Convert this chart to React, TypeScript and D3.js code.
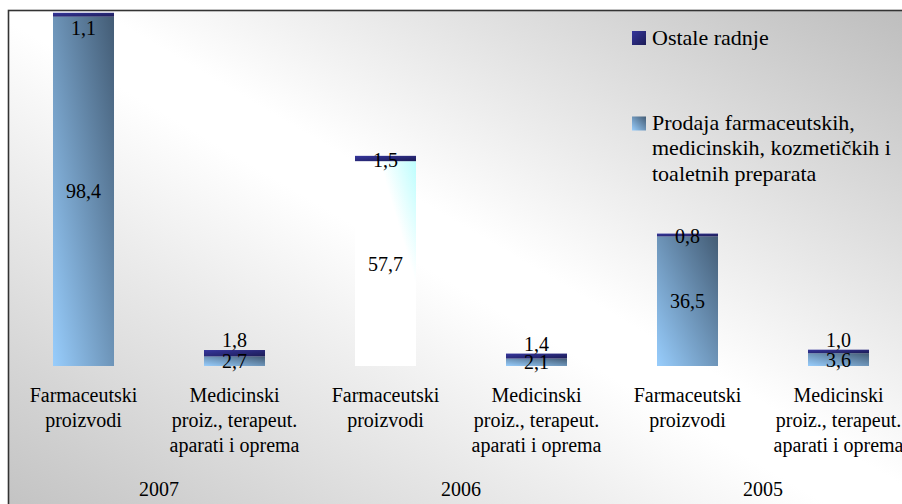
import * as d3 from 'd3'

// vrijednosti (%) po godini i grupi proizvoda
const years = ['2007', '2006', '2005']
const categories = [
  ['Farmaceutski', 'proizvodi'],
  ['Medicinski', 'proiz., terapeut.', 'aparati i oprema'],
]
const prodaja = [98.4, 2.7, 57.7, 2.1, 36.5, 3.6]
const ostale = [1.1, 1.8, 1.5, 1.4, 0.8, 1.0]
const legendOstale = ['Ostale radnje']
const legendProdaja = ['Prodaja farmaceutskih,', 'medicinskih, kozmetičkih i', 'toaletnih preparata']

const W = 902
const H = 504
const FONT = "'Liberation Serif'"

const fmt = d3.formatLocale({ decimal: ',', thousands: '.', grouping: [3], currency: ['', ''] }).format('.1f')

export default function App() {
  const rows = prodaja.map((p, i) => ({
    idx: i,
    year: years[Math.floor(i / 2)],
    cat: i % 2,
    prodaja: p,
    ostale: ostale[i],
  }))

  const stacked = d3.stack<any>().keys(['prodaja', 'ostale'])(rows)

  const x = d3.scaleBand<number>()
    .domain(rows.map(d => d.idx))
    .range([8, 914])
    .paddingInner(0.596)
    .paddingOuter(0.298)

  const y = d3.scaleLinear().domain([0, 100]).range([366, 11])
  const bw = x.bandwidth()
  const cx = (i: number) => (x(i) as number) + bw / 2

  return (
    <svg width={W} height={H} style={{ position: 'absolute', left: 0, top: 0, background: '#fff' }}>
      <defs>
        <linearGradient id="bg" gradientUnits="userSpaceOnUse" x1={220} y1={640} x2={680} y2={-140}>
          <stop offset="0" stopColor="#c2c2c2" />
          <stop offset="0.47" stopColor="#ffffff" />
          <stop offset="0.53" stopColor="#ffffff" />
          <stop offset="1" stopColor="#bbbbbb" />
        </linearGradient>
        <linearGradient id="gBlue" x1="0" y1="1" x2="1" y2="0">
          <stop offset="0" stopColor="#98cdfc" />
          <stop offset="1" stopColor="#435c75" />
        </linearGradient>
        <linearGradient id="gWhite" x1="0" y1="1" x2="1" y2="0">
          <stop offset="0" stopColor="#ffffff" />
          <stop offset="0.7" stopColor="#ffffff" />
          <stop offset="1" stopColor="#bdfdfd" />
        </linearGradient>
        <linearGradient id="gDark" x1="0" y1="0" x2="1" y2="1">
          <stop offset="0" stopColor="#36369c" />
          <stop offset="1" stopColor="#1c1c56" />
        </linearGradient>
      </defs>

      <rect x={8.5} y={10.5} width={W} height={H} fill="url(#bg)" stroke="#333" strokeWidth={1.6} />

      {/* stupci */}
      {stacked.map((layer, li) => (
        <g key={layer.key}>
          {layer.map((seg, i) => (
            <rect
              key={i}
              x={x(i)}
              y={y(seg[1])}
              width={bw}
              height={y(seg[0]) - y(seg[1])}
              fill={li === 1 ? 'url(#gDark)' : i === 2 ? 'url(#gWhite)' : 'url(#gBlue)'}
            />
          ))}
        </g>
      ))}

      {/* oznake vrijednosti */}
      {stacked.map((layer, li) =>
        layer.map((seg, i) => {
          const top = y(seg[1])
          const bottom = y(seg[0])
          let cy = (top + bottom) / 2
          if (li === 1) {
            if (rows[i].cat === 1) cy = top - 10
            else cy = Math.max(cy + 1, y(100) + 17)
          }
          return (
            <text key={layer.key + i} x={cx(i)} y={cy} dy="0.35em" textAnchor="middle"
              style={{ fontFamily: FONT, fontSize: 20 }} fill="#000">
              {fmt(seg.data[layer.key])}
            </text>
          )
        })
      )}

      {/* kategorije */}
      {rows.map(d => (
        <text key={d.idx} x={cx(d.idx)} y={402} textAnchor="middle" style={{ fontFamily: FONT, fontSize: 20 }}>
          {categories[d.cat].map((line, k) => (
            <tspan key={k} x={cx(d.idx)} dy={k === 0 ? 0 : 25}>{line}</tspan>
          ))}
        </text>
      ))}
      {years.map((yr, k) => (
        <text key={yr} x={(cx(2 * k) + cx(2 * k + 1)) / 2} y={496} textAnchor="middle"
          style={{ fontFamily: FONT, fontSize: 20 }}>{yr}</text>
      ))}

      {/* legenda */}
      <rect x={632} y={31} width={14} height={14} fill="url(#gDark)" />
      <text x={652} y={45} style={{ fontFamily: FONT, fontSize: 22 }}>
        {legendOstale.map((l, k) => <tspan key={k} x={652} dy={k === 0 ? 0 : 25.5}>{l}</tspan>)}
      </text>
      <rect x={632} y={116.5} width={14} height={14} fill="url(#gBlue)" />
      <text x={652} y={129.5} style={{ fontFamily: FONT, fontSize: 22 }}>
        {legendProdaja.map((l, k) => <tspan key={k} x={652} dy={k === 0 ? 0 : 25.5}>{l}</tspan>)}
      </text>
    </svg>
  )
}
